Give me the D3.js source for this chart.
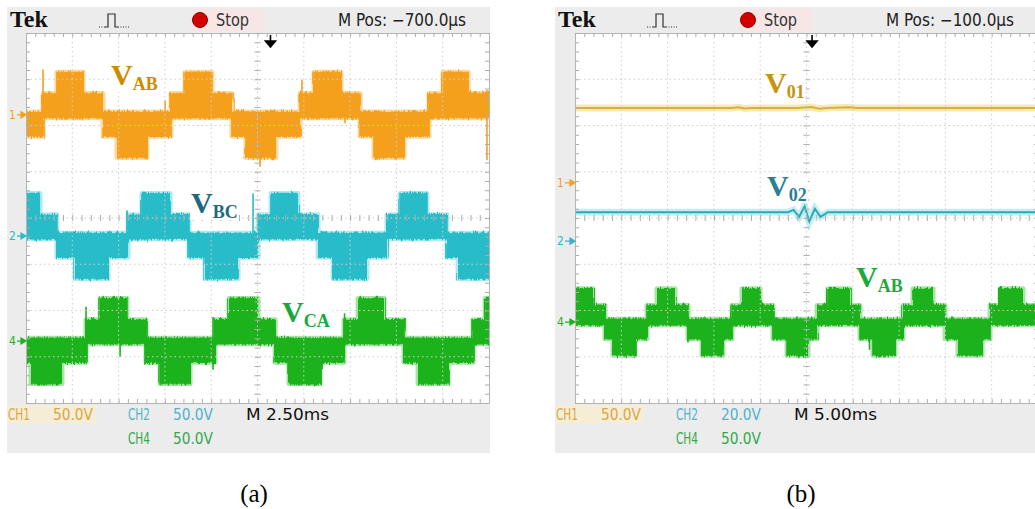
<!DOCTYPE html>
<html>
<head>
<meta charset="utf-8">
<script src="https://cdn.jsdelivr.net/npm/d3@7"></script>
<style>
  body { margin: 0; background: #fff; }
  svg { display: block; }
</style>
</head>
<body>
<div id="chart"></div>
<script>
// ---------- panel (a): 2.50 ms/div, all channels 50 V/div ----------
const spanA = 25;                 // ms across 10 divisions
const stepsA = [0, 23, 46];       // inverter voltage levels (V)
// [start ms, level]  level index into steps, sign = polarity
const vabA = [[0,-1],[0.92,1],[1.67,2],[3.08,1],[4.16,-1],[4.91,-2],[6.53,-1],[7.83,1],[8.59,2],[10.04,1],[11.12,-1],[11.88,-2],[13.50,-1],[14.80,1],[15.55,2],[17.01,1],[18.04,-1],[18.79,-2],[20.41,-1],[21.76,1],[22.52,2],[23.87,1]];
const vbcA = [[0,2],[0.76,1],[1.67,-1],[2.65,-2],[4.43,-1],[5.51,1],[6.26,2],[7.78,1],[8.80,-1],[9.67,-2],[11.45,-1],[12.53,1],[13.23,2],[14.69,1],[15.77,-1],[16.58,-2],[18.41,-1],[19.49,1],[20.20,2],[21.65,1],[22.73,-1],[23.33,-2]];
const vcaA = [[0,-1],[0.27,-2],[1.94,-1],[3.24,1],[4.00,2],[5.45,1],[6.48,-1],[7.24,-2],[8.86,-1],[10.21,1],[10.96,2],[12.53,1],[13.45,-1],[14.20,-2],[15.88,-1],[17.17,1],[17.93,2],[19.33,1],[20.41,-1],[21.17,-2],[22.79,-1],[24.14,1],[24.79,2]];
// switching spikes [ms, from V, to V]
const spikeVabA = [[0.92,-3,49],[7.51,-9,16],[12.64,-56,-27],[14.90,2,38],[17.23,-9,16],[24.89,-49,27]];
const spikeVbcA = [[5.45,-1,28],[9.67,-30,-5],[12.26,-1,46],[19.28,-23,-8]];
const spikeVcaA = [[3.24,-13,37],[5.08,-17,1],[10.10,-31,26],[17.20,-2,30]];
// channel ground positions (div from centre)
const posA = { ch1: 2.23, ch2: -0.39, ch4: -2.66 };
const voltsA = { ch1: 50, ch2: 50, ch4: 50 };
const readoutA = [["CH1", "50.0V"], ["CH2", "50.0V"], ["CH4", "50.0V"]];
const timebaseA = "M 2.50ms";
const mposA = "M Pos: \u2212700.0\u03bcs";
const trigA = 13.2;               // ms, trigger point

// ---------- panel (b): 5.00 ms/div ----------
const spanB = 50;
const stepsB = [0, 18, 36];
const v01B = [[0,81],[17,81],[17.6,81.8],[18.3,80.4],[19,81],[24,81],[25.5,82],[26.4,80.2],[27.2,81],[29.6,81.6],[30.4,81],[50,81]];
const v02B = [[0,12.5],[23,12.5],[23.6,13.5],[24.2,10.5],[24.8,15],[25.3,8.5],[25.9,14],[26.5,10.5],[27.3,12.5],[50,12.5]];
const vabB = [[0,2],[1.94,1],[3.24,-1],[4.10,-2],[6.48,-1],[7.78,1],[8.86,2],[10.80,1],[12.20,-1],[13.72,-2],[15.98,-1],[16.96,1],[18.04,2],[19.98,1],[21.38,-1],[22.90,-2],[25.16,-1],[26.14,1],[27.32,2],[29.70,1],[30.78,-1],[32.18,-2],[34.56,-1],[35.42,1],[36.50,2],[38.66,1],[39.96,-1],[41.36,-2],[43.96,-1],[44.82,1],[45.90,2],[48.38,1]];
const spikeVabB = [[12.2,-22,6],[31.8,-30,2]];
const posB = { ch1: 0.76, ch2: -0.50, ch4: -2.25 };
const voltsB = { ch1: 50, ch2: 20, ch4: 50 };
const readoutB = [["CH1", "50.0V"], ["CH2", "20.0V"], ["CH4", "50.0V"]];
const timebaseB = "M 5.00ms";
const mposB = "M Pos: \u2212100.0\u03bcs";
const trigB = 25.6;

const colors = {
  ch1: "#f5a01c", ch1Halo: "#fcd9a0",
  ch2: "#27bcc8", ch2Halo: "#b2e9ee",
  ch4: "#1cb21c", ch4Halo: "#a6e3a6"
};
const uiFont = "'Liberation Sans Narrow','DejaVu Sans Condensed','Liberation Sans',sans-serif";
const serif = "'Liberation Serif','Times New Roman',serif";

const svg = d3.select("#chart").append("svg")
    .attr("width", 1035)
    .attr("height", 509);

// ragged PWM edge: vertical streaks displacing the band outline
const fz = svg.append("defs").append("filter").attr("id", "fuzz")
    .attr("x", "-2%").attr("y", "-15%").attr("width", "104%").attr("height", "130%");
fz.append("feTurbulence").attr("type", "fractalNoise").attr("baseFrequency", "0.7 0.015")
    .attr("numOctaves", 2).attr("seed", 3).attr("result", "n");
fz.append("feDisplacementMap").attr("in", "SourceGraphic").attr("in2", "n")
    .attr("scale", 7).attr("xChannelSelector", "R").attr("yChannelSelector", "G");

function drawPanel(p) {
  const g = svg.append("g");
  const gx = p.gx, gw = 463, gt = 33, gb = 403;

  // scope frame and screen
  g.append("rect").attr("x", p.fx).attr("y", 7).attr("width", p.fw).attr("height", 446).attr("fill", "#ececec");
  g.append("rect").attr("x", p.fx + 184).attr("y", 9).attr("width", 73).attr("height", 23).attr("fill", "#f6e6e6");
  g.append("rect").attr("x", gx).attr("y", gt).attr("width", gw).attr("height", gb - gt).attr("fill", "#fff");

  const xDiv = d3.scaleLinear().domain([0, 10]).range([gx, gx + gw]);
  const yDiv = d3.scaleLinear().domain([-4, 4]).range([gb, gt]);
  const x = d3.scaleLinear().domain([0, p.span]).range([gx, gx + gw]);
  const yCh = ch => v => yDiv(p.pos[ch] + v / p.volts[ch]);

  const clipId = "clip" + p.id;
  g.append("clipPath").attr("id", clipId).append("rect")
      .attr("x", gx).attr("y", gt).attr("width", gw).attr("height", gb - gt);
  const plot = g.append("g").attr("clip-path", `url(#${clipId})`);

  // stepped multilevel trace, filled from the ground fuzz out to the level
  function band(segs, steps, ch, spikes) {
    const y = yCh(ch);
    const pts = segs.concat([[p.span, segs[segs.length - 1][1]]]);
    const lo = b => b > 0 ? -3 : 3;
    const hi = b => b > 0 ? steps[b] : -steps[-b];
    const area = d3.area().curve(d3.curveStepAfter)
        .x(d => x(d[0])).y0(d => y(lo(d[1]))).y1(d => y(hi(d[1])));
    const tr = plot.append("g");
    tr.append("path").attr("d", area(pts))
        .attr("fill", colors[ch + "Halo"]).attr("stroke", colors[ch + "Halo"])
        .attr("stroke-width", 5).attr("stroke-linejoin", "round");
    tr.append("path").attr("d", area(pts))
        .attr("fill", colors[ch]).attr("stroke", colors[ch])
        .attr("stroke-width", 1.6).attr("filter", "url(#fuzz)");
    tr.append("path").attr("d", area(pts))
        .attr("fill", colors[ch]).attr("stroke", "none")
        .attr("transform", "scale(1,1)");
    tr.selectAll(null).data(spikes).enter().append("line")
        .attr("x1", d => x(d[0])).attr("x2", d => x(d[0]))
        .attr("y1", d => y(d[1])).attr("y2", d => y(d[2]))
        .attr("stroke", colors[ch]).attr("stroke-width", 1.6);
  }

  function flat(pts, ch, color, halo) {
    const y = yCh(ch);
    const line = d3.line().x(d => x(d[0])).y(d => y(d[1]));
    plot.append("path").attr("d", line(pts)).attr("fill", "none")
        .attr("stroke", halo).attr("stroke-width", 7);
    plot.append("path").attr("d", line(pts)).attr("fill", "none")
        .attr("stroke", color).attr("stroke-width", 2);
  }

  p.draw(band, flat);

  // graticule: dotted division lines
  const grid = g.append("g").attr("stroke", "#cdcdcd").attr("stroke-dasharray", "1.5,3");
  grid.selectAll(null).data(d3.range(1, 10)).enter().append("line")
      .attr("x1", d => xDiv(d)).attr("x2", d => xDiv(d)).attr("y1", gt).attr("y2", gb);
  grid.selectAll(null).data(d3.range(-3, 4)).enter().append("line")
      .attr("y1", d => yDiv(d)).attr("y2", d => yDiv(d)).attr("x1", gx).attr("x2", gx + gw);

  // minor ticks on border and centre lines
  const tickG = (axis, tx, ty, n, size, keepDomain) => g.append("g")
      .attr("transform", `translate(${tx},${ty})`)
      .call(axis.ticks(n).tickSize(size).tickSizeOuter(0).tickFormat(""))
      .call(a => a.select(".domain").attr("stroke", keepDomain ? "#b4b4b4" : "none"))
      .call(a => a.selectAll(".tick line").attr("stroke", "#adadad"));
  tickG(d3.axisBottom(xDiv), 0, gt, 50, 4, true);
  tickG(d3.axisTop(xDiv), 0, gb, 50, 4, true);
  tickG(d3.axisRight(yDiv), gx, 0, 40, 4, true);
  tickG(d3.axisLeft(yDiv), gx + gw, 0, 40, 4, true);
  tickG(d3.axisBottom(xDiv), 0, yDiv(0), 50, 3, false);
  tickG(d3.axisTop(xDiv), 0, yDiv(0), 50, 3, false);
  tickG(d3.axisRight(yDiv), xDiv(5), 0, 40, 3, false);
  tickG(d3.axisLeft(yDiv), xDiv(5), 0, 40, 3, false);

  // header
  g.append("text").attr("x", p.fx + 3).attr("y", 27).text("Tek")
      .attr("font-family", serif).attr("font-weight", "bold").attr("font-size", 24).attr("fill", "#111");
  const px = p.fx + 92;
  g.append("path")
      .attr("d", `M${px + 6},27 H${px + 9} V14 H${px + 16} V27 H${px + 19}`)
      .attr("fill", "none").attr("stroke", "#333").attr("stroke-width", 1.2);
  g.append("path")
      .attr("d", `M${px},27 H${px + 6} M${px + 19},27 H${px + 30}`)
      .attr("fill", "none").attr("stroke", "#333").attr("stroke-width", 1.2)
      .attr("stroke-dasharray", "1,1.5");
  g.append("circle").attr("cx", p.fx + 193).attr("cy", 20).attr("r", 7.5)
      .attr("fill", "#d40000").attr("stroke", "#8a0000").attr("stroke-width", 1);
  g.append("text").attr("x", p.fx + 209).attr("y", 26).text("Stop")
      .attr("font-family", uiFont).attr("font-size", 17).attr("fill", "#333")
      .attr("textLength", 33).attr("lengthAdjust", "spacingAndGlyphs");
  g.append("text").attr("x", p.fx + 331).attr("y", 26).text(p.mpos)
      .attr("font-family", uiFont).attr("font-size", 17).attr("fill", "#222")
      .attr("textLength", 128).attr("lengthAdjust", "spacingAndGlyphs");

  // trigger position arrow
  const tx = x(p.trig);
  g.append("path")
      .attr("d", `M${tx},35 V41 M${tx - 5},41 H${tx + 5} L${tx},47 Z`)
      .attr("fill", "#000").attr("stroke", "#000").attr("stroke-width", 1.6);

  // channel ground markers
  ["ch1", "ch2", "ch4"].forEach(ch => {
    const y = yCh(ch)(0);
    const mk = g.append("g").attr("fill", colors[ch]).attr("stroke", colors[ch]);
    mk.append("text").attr("x", p.fx + 2).attr("y", y + 4).text(ch.slice(2))
        .attr("font-family", uiFont).attr("font-size", 12).attr("stroke", "none");
    mk.append("path").attr("d", `M${p.fx + 10},${y} H${gx - 2} M${gx - 5},${y - 3} L${gx},${y} L${gx - 5},${y + 3} Z`)
        .attr("stroke-width", 1.2);
  });

  // bottom readout
  g.append("rect").attr("x", p.fx + 1).attr("y", 405).attr("width", 88).attr("height", 18).attr("fill", "#f5edd6");
  const ro = g.append("g").attr("font-family", uiFont).attr("font-size", 16);
  const roColor = ["#d9a748", "#4fb3cc", "#34a94a"];
  const roPos = [[p.fx + 1, 420], [p.fx + 121, 420], [p.fx + 121, 444]];
  p.readout.forEach((r, i) => {
    ro.append("text").attr("x", roPos[i][0]).attr("y", roPos[i][1]).text(r[0]).attr("fill", roColor[i])
        .attr("textLength", 22).attr("lengthAdjust", "spacingAndGlyphs");
    ro.append("text").attr("x", roPos[i][0] + 45).attr("y", roPos[i][1]).text(r[1]).attr("fill", roColor[i])
        .attr("textLength", 40).attr("lengthAdjust", "spacingAndGlyphs");
  });
  ro.append("text").attr("x", p.fx + 239).attr("y", 420).text(p.timebase).attr("fill", "#111")
      .attr("textLength", 83).attr("lengthAdjust", "spacingAndGlyphs");

  // waveform labels
  p.labels.forEach(l => {
    const t = g.append("text").attr("x", l.x).attr("y", l.y)
        .attr("font-family", serif).attr("font-weight", "bold").attr("fill", l.color);
    t.append("tspan").attr("font-size", 30).text("V");
    t.append("tspan").attr("font-size", 18).attr("dy", 5).text(l.sub);
    const bb = t.node().getBBox();
    g.insert("rect", () => t.node())
        .attr("x", bb.x - 1).attr("y", bb.y + 6).attr("width", bb.width + 2).attr("height", bb.height - 8)
        .attr("fill", "#fff");
  });

  // caption
  svg.append("text").attr("x", p.cap).attr("y", 502).attr("text-anchor", "middle").text(p.caption)
      .attr("font-family", serif).attr("font-size", 25).attr("fill", "#000");
}

drawPanel({
  id: "a", fx: 7, fw: 483, gx: 26, span: spanA, pos: posA, volts: voltsA,
  readout: readoutA, timebase: timebaseA, mpos: mposA, trig: trigA,
  caption: "(a)", cap: 254,
  labels: [
    { x: 111, y: 85, sub: "AB", color: "#d08a00" },
    { x: 191, y: 213, sub: "BC", color: "#1d6a80" },
    { x: 282, y: 322, sub: "CA", color: "#18a83e" }
  ],
  draw: (band) => {
    band(vabA, stepsA, "ch1", spikeVabA);
    band(vbcA, stepsA, "ch2", spikeVbcA);
    band(vcaA, stepsA, "ch4", spikeVcaA);
  }
});

drawPanel({
  id: "b", fx: 555, fw: 490, gx: 575, span: spanB, pos: posB, volts: voltsB,
  readout: readoutB, timebase: timebaseB, mpos: mposB, trig: trigB,
  caption: "(b)", cap: 801,
  labels: [
    { x: 765, y: 93, sub: "01", color: "#c8920a" },
    { x: 767, y: 196, sub: "02", color: "#2a7f96" },
    { x: 856, y: 287, sub: "AB", color: "#1daa3c" }
  ],
  draw: (band, flat) => {
    flat(v01B, "ch1", "#d9b040", "#f6e9b8");
    flat(v02B, "ch2", "#2aaab8", "#c4eef1");
    band(vabB, stepsB, "ch4", spikeVabB);
  }
});
</script>
</body>
</html>
